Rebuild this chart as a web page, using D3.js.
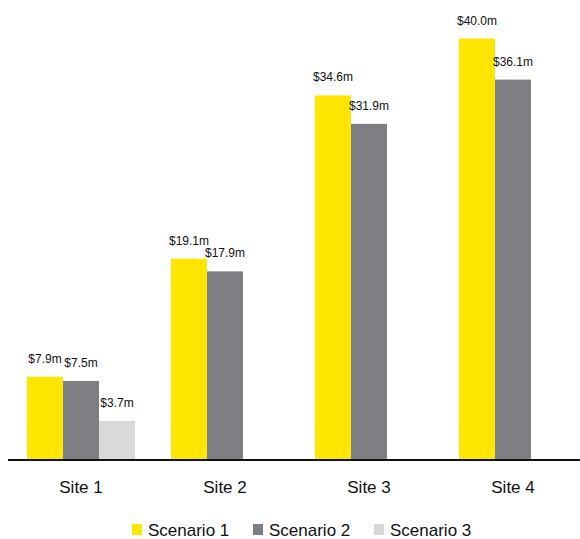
<!DOCTYPE html>
<html>
<head>
<meta charset="utf-8">
<script src="https://cdn.jsdelivr.net/npm/d3@7"></script>
<style>
  body { margin: 0; background: #fff; }
  svg { display: block; font-family: "Liberation Sans", Arial, sans-serif; }
</style>
</head>
<body>
<div id="chart"></div>
<script>
// chart data
var sites = ["Site 1", "Site 2", "Site 3", "Site 4"];
var scenarios = ["Scenario 1", "Scenario 2", "Scenario 3"];
var scenario1 = [7.9, 19.1, 34.6, 40.0];
var scenario2 = [7.5, 17.9, 31.9, 36.1];
var scenario3 = [3.7, null, null, null];

var colors = { "Scenario 1": "#ffe600", "Scenario 2": "#7f7e83", "Scenario 3": "#d9d9d9" };

var width = 580, height = 539;
var baseY = 460;

var svg = d3.select('#chart')
    .append('svg')
    .attr('width', width)
    .attr('height', height);

var x = d3.scaleBand()
    .domain(sites)
    .range([9, 585])
    .padding(0);

// sub band for scenarios inside each site
var xSub = d3.scaleBand()
    .domain(scenarios)
    .range([18, x.bandwidth() - 18]);

var y = d3.scaleLinear()
    .domain([0, 40])
    .range([baseY, 38.5]);

var rows = [];
var seriesVals = [scenario1, scenario2, scenario3];
sites.forEach(function (s, i) {
    scenarios.forEach(function (sc, j) {
        var v = seriesVals[j][i];
        if (v != null) rows.push({ site: s, scenario: sc, value: v });
    });
});

var bars = svg.append('g');
bars.selectAll('rect')
    .data(rows)
    .enter()
    .append('rect')
    .attr('x', function (d) { return x(d.site) + xSub(d.scenario); })
    .attr('y', function (d) { return y(d.value); })
    .attr('width', xSub.bandwidth())
    .attr('height', function (d) { return baseY - y(d.value); })
    .attr('fill', function (d) { return colors[d.scenario]; });

bars.selectAll('text')
    .data(rows)
    .enter()
    .append('text')
    .attr('x', function (d) { return x(d.site) + xSub(d.scenario) + xSub.bandwidth() / 2; })
    .attr('y', function (d) { return y(d.value) - 14; })
    .attr('text-anchor', 'middle')
    .style('font-size', '12px')
    .style('fill', '#111')
    .text(function (d) { return '$' + d.value.toFixed(1) + 'm'; });

// x axis
var xAxis = svg.append('g')
    .attr('transform', 'translate(0,' + baseY + ')')
    .call(d3.axisBottom(x).tickSize(0).tickSizeOuter(0));

xAxis.select('.domain')
    .attr('stroke', '#111')
    .attr('stroke-width', 2)
    .attr('d', 'M8,0H580');

xAxis.selectAll('text')
    .attr('y', 33)
    .attr('dy', null)
    .style('font-size', '17px')
    .style('font-family', '"Liberation Sans", Arial, sans-serif')
    .style('fill', '#111');

// legend
var legend = svg.append('g')
    .selectAll('.legend')
    .data(scenarios)
    .enter()
    .append('g')
    .attr('class', 'legend')
    .attr('transform', function (d, i) {
        return 'translate(' + (132 + i * 121) + ',524)';
    });

legend.append('rect')
    .attr('width', 10)
    .attr('height', 11)
    .attr('fill', function (d) { return colors[d]; });

legend.append('text')
    .attr('x', 16)
    .attr('y', 12)
    .style('font-size', '17px')
    .style('fill', '#111')
    .text(function (d) { return d; });
</script>
</body>
</html>
